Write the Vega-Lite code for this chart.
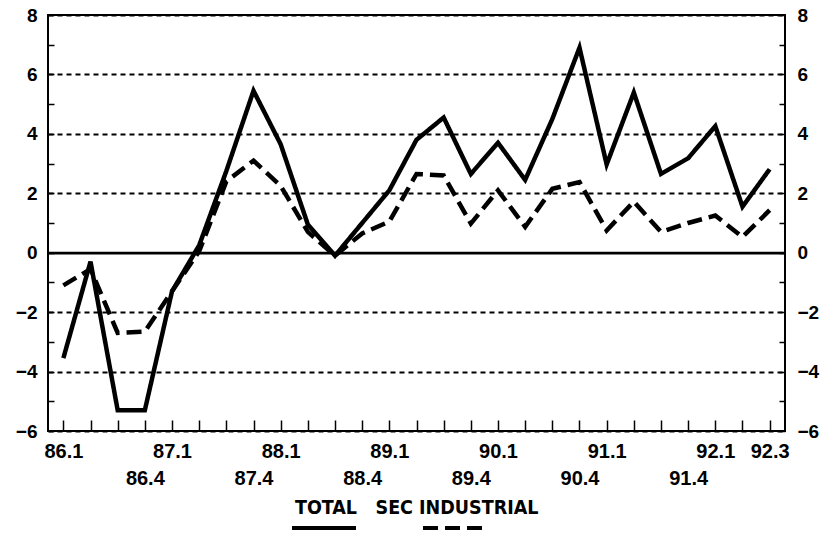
{
  "$schema": "https://vega.github.io/schema/vega-lite/v6.json",
  "width": 737,
  "height": 416,
  "autosize": "none",
  "padding": {"left": 48, "top": 15, "right": 42, "bottom": 117},
  "background": "white",
  "config": {"view": {"stroke": "black", "strokeWidth": 2}, "font": "Liberation Sans"},
  "data": {"values": [
    {"period": "86.1", "series": "TOTAL", "value": -3.55}, {"period": "86.1", "series": "SEC INDUSTRIAL", "value": -1.1},
    {"period": "86.2", "series": "TOTAL", "value": -0.3}, {"period": "86.2", "series": "SEC INDUSTRIAL", "value": -0.55},
    {"period": "86.3", "series": "TOTAL", "value": -5.3}, {"period": "86.3", "series": "SEC INDUSTRIAL", "value": -2.7},
    {"period": "86.4", "series": "TOTAL", "value": -5.3}, {"period": "86.4", "series": "SEC INDUSTRIAL", "value": -2.65},
    {"period": "87.1", "series": "TOTAL", "value": -1.3}, {"period": "87.1", "series": "SEC INDUSTRIAL", "value": -1.3},
    {"period": "87.2", "series": "TOTAL", "value": 0.25}, {"period": "87.2", "series": "SEC INDUSTRIAL", "value": 0.05},
    {"period": "87.3", "series": "TOTAL", "value": 2.75}, {"period": "87.3", "series": "SEC INDUSTRIAL", "value": 2.4},
    {"period": "87.4", "series": "TOTAL", "value": 5.45}, {"period": "87.4", "series": "SEC INDUSTRIAL", "value": 3.1},
    {"period": "88.1", "series": "TOTAL", "value": 3.65}, {"period": "88.1", "series": "SEC INDUSTRIAL", "value": 2.25},
    {"period": "88.2", "series": "TOTAL", "value": 0.95}, {"period": "88.2", "series": "SEC INDUSTRIAL", "value": 0.7},
    {"period": "88.3", "series": "TOTAL", "value": -0.1}, {"period": "88.3", "series": "SEC INDUSTRIAL", "value": -0.1},
    {"period": "88.4", "series": "TOTAL", "value": 1.0}, {"period": "88.4", "series": "SEC INDUSTRIAL", "value": 0.65},
    {"period": "89.1", "series": "TOTAL", "value": 2.1}, {"period": "89.1", "series": "SEC INDUSTRIAL", "value": 1.05},
    {"period": "89.2", "series": "TOTAL", "value": 3.8}, {"period": "89.2", "series": "SEC INDUSTRIAL", "value": 2.65},
    {"period": "89.3", "series": "TOTAL", "value": 4.55}, {"period": "89.3", "series": "SEC INDUSTRIAL", "value": 2.6},
    {"period": "89.4", "series": "TOTAL", "value": 2.65}, {"period": "89.4", "series": "SEC INDUSTRIAL", "value": 0.98},
    {"period": "90.1", "series": "TOTAL", "value": 3.7}, {"period": "90.1", "series": "SEC INDUSTRIAL", "value": 2.1},
    {"period": "90.2", "series": "TOTAL", "value": 2.45}, {"period": "90.2", "series": "SEC INDUSTRIAL", "value": 0.87},
    {"period": "90.3", "series": "TOTAL", "value": 4.5}, {"period": "90.3", "series": "SEC INDUSTRIAL", "value": 2.15},
    {"period": "90.4", "series": "TOTAL", "value": 6.9}, {"period": "90.4", "series": "SEC INDUSTRIAL", "value": 2.38},
    {"period": "91.1", "series": "TOTAL", "value": 2.97}, {"period": "91.1", "series": "SEC INDUSTRIAL", "value": 0.75},
    {"period": "91.2", "series": "TOTAL", "value": 5.39}, {"period": "91.2", "series": "SEC INDUSTRIAL", "value": 1.72},
    {"period": "91.3", "series": "TOTAL", "value": 2.65}, {"period": "91.3", "series": "SEC INDUSTRIAL", "value": 0.7},
    {"period": "91.4", "series": "TOTAL", "value": 3.18}, {"period": "91.4", "series": "SEC INDUSTRIAL", "value": 1.0},
    {"period": "92.1", "series": "TOTAL", "value": 4.26}, {"period": "92.1", "series": "SEC INDUSTRIAL", "value": 1.25},
    {"period": "92.2", "series": "TOTAL", "value": 1.55}, {"period": "92.2", "series": "SEC INDUSTRIAL", "value": 0.53},
    {"period": "92.3", "series": "TOTAL", "value": 2.81}, {"period": "92.3", "series": "SEC INDUSTRIAL", "value": 1.43}
  ]},
  "layer": [
    {
      "mark": {"type": "line", "strokeWidth": 4.5, "color": "black"},
      "encoding": {
        "x": {
          "field": "period", "type": "ordinal", "sort": null,
          "scale": {"type": "point", "padding": 0.565},
          "axis": {
            "title": null, "domain": false, "grid": false,
            "labelExpr": "datum.value == '92.3' || slice(datum.value, -2) == '.1' ? datum.value : (slice(datum.value, -2) == '.4' ? ['', datum.value] : '')",
            "labelAngle": 0, "labelAlign": "center", "labelBaseline": "top",
            "labelLineHeight": 27, "labelFontSize": 20, "labelFontWeight": "bold",
            "labelColor": "black", "labelPadding": 10, "labelOverlap": false, "labelBound": false,
            "offset": -11, "ticks": true, "tickSize": 11, "tickColor": "black", "tickWidth": 1.5
          }
        },
        "y": {
          "field": "value", "type": "quantitative",
          "scale": {"domain": [-6, 8], "nice": false, "zero": false},
          "axis": {
            "orient": "left", "title": null, "domain": false,
            "values": [-6, -5, -4, -3, -2, -1, 0, 1, 2, 3, 4, 5, 6, 7, 8],
            "labelExpr": "datum.value % 2 == 0 ? datum.label : ''",
            "grid": true, "gridColor": "black", "gridWidth": 2,
            "gridDash": {"condition": {"test": "datum.value == 0", "value": []}, "value": [5, 4]},
            "gridOpacity": {"condition": {"test": "datum.value % 2 != 0", "value": 0}, "value": 1},
            "offset": -6, "ticks": true, "tickSize": 6, "tickColor": "black", "tickWidth": 1.5,
            "labelPadding": 11, "labelFontSize": 19, "labelFontWeight": "bold", "labelColor": "black"
          }
        },
        "strokeDash": {
          "field": "series", "type": "nominal",
          "scale": {"domain": ["TOTAL", "SEC INDUSTRIAL"], "range": [[1, 0], [15, 7]]},
          "legend": {
            "orient": "none", "legendX": 242, "legendY": 479, "direction": "horizontal",
            "title": null, "symbolType": "stroke", "symbolSize": 4096, "symbolStrokeWidth": 4,
            "symbolStrokeColor": "black",
            "labelFont": "Liberation Sans Narrow, DejaVu Sans Condensed, sans-serif",
            "labelFontSize": 19.5, "labelFontWeight": "bold", "labelColor": "black", "labelLimit": 400,
            "labelOffset": 0, "labelAlign": "center", "columnPadding": 11,
            "encode": {
              "labels": {"update": {"dx": {"value": -32}, "dy": {"value": -20}}}
            }
          }
        }
      }
    },
    {
      "data": {"values": [{}]},
      "mark": {"type": "rule", "color": "black", "strokeWidth": 2},
      "encoding": {
        "y": {
          "datum": 0, "type": "quantitative",
          "axis": {
            "orient": "right", "title": null, "domain": false, "grid": false,
            "values": [-6, -5, -4, -3, -2, -1, 0, 1, 2, 3, 4, 5, 6, 7, 8],
            "labelExpr": "datum.value % 2 == 0 ? datum.label : ''",
            "offset": -6, "ticks": true, "tickSize": 6, "tickColor": "black", "tickWidth": 1.5,
            "labelPadding": 12, "labelFontSize": 19, "labelFontWeight": "bold", "labelColor": "black"
          }
        }
      }
    }
  ],
  "resolve": {"axis": {"y": "independent"}}
}
